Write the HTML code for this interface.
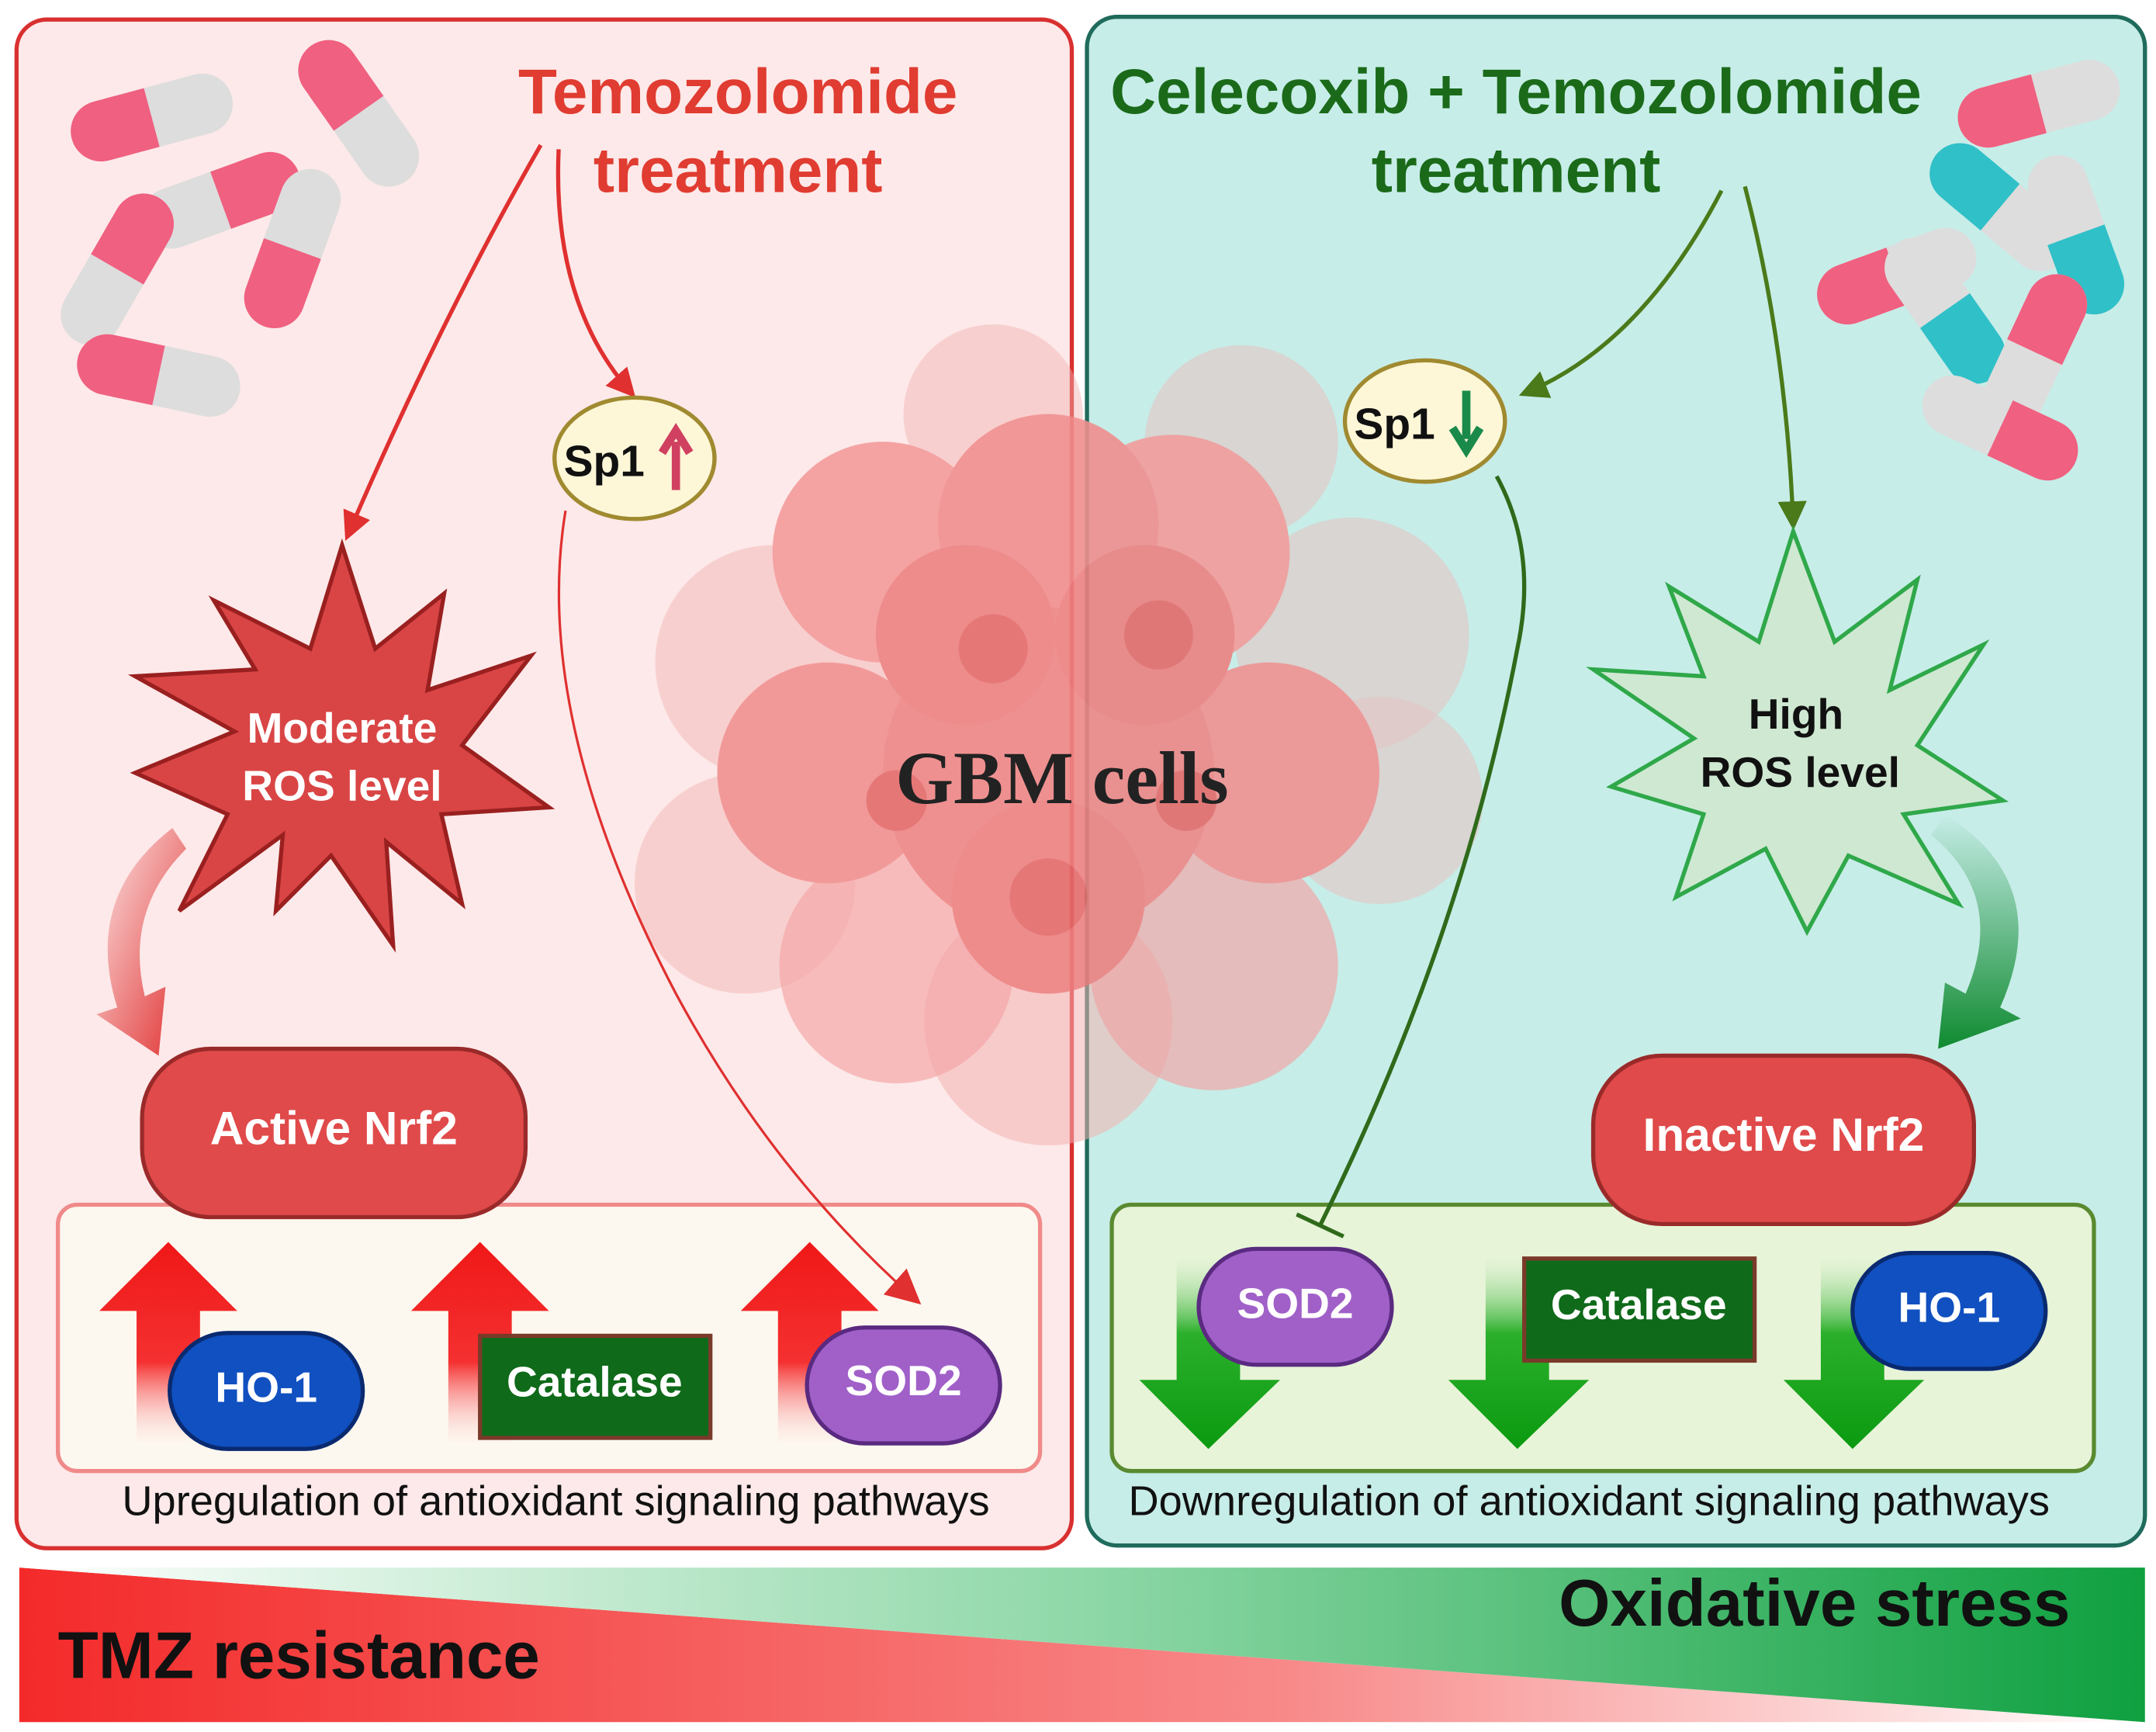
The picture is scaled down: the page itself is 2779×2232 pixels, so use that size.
<!DOCTYPE html>
<html><head><meta charset="utf-8">
<style>
html,body{margin:0;padding:0;background:#fff;}
svg{display:block;}
text{font-family:"Liberation Sans",sans-serif;}
</style></head>
<body>
<svg width="2779" height="2232" viewBox="0 0 1563 1255" xmlns="http://www.w3.org/2000/svg">
<defs>
<linearGradient id="redg" x1="0" x2="1" y1="0" y2="0">
<stop offset="0" stop-color="#f42a2a"/><stop offset="0.6" stop-color="#f88a8a"/><stop offset="1" stop-color="#ffffff"/></linearGradient>
<linearGradient id="greeng" x1="0" x2="1" y1="0" y2="0">
<stop offset="0" stop-color="#ffffff"/><stop offset="0.5" stop-color="#8fd8a8"/><stop offset="1" stop-color="#0fa040"/></linearGradient>
<linearGradient id="upr" x1="0" x2="0" y1="0" y2="1"><stop offset="0" stop-color="#f01818"/><stop offset="0.6" stop-color="#f43030"/><stop offset="1" stop-color="#fde8e8" stop-opacity="0.2"/></linearGradient>
<linearGradient id="dng" x1="0" x2="0" y1="0" y2="1"><stop offset="0" stop-color="#e6f4d8" stop-opacity="0.2"/><stop offset="0.4" stop-color="#2cb02c"/><stop offset="1" stop-color="#0a9a10"/></linearGradient>
<linearGradient id="curvr" x1="0" x2="1" y1="0" y2="1"><stop offset="0" stop-color="#fde8e8"/><stop offset="1" stop-color="#e03030"/></linearGradient>
<linearGradient id="curvg" x1="0" x2="0" y1="0" y2="1"><stop offset="0" stop-color="#c6ede8"/><stop offset="1" stop-color="#0f8a30"/></linearGradient>
<marker id="ar" viewBox="0 0 10 10" refX="8" refY="5" markerWidth="7" markerHeight="7" orient="auto"><path d="M0,0L10,5L0,10z" fill="#e03030"/></marker>
<marker id="ar2" viewBox="0 0 10 10" refX="8" refY="5" markerWidth="14" markerHeight="14" orient="auto"><path d="M0,0L10,5L0,10z" fill="#e03030"/></marker>
<marker id="ag" viewBox="0 0 10 10" refX="8" refY="5" markerWidth="7" markerHeight="7" orient="auto"><path d="M0,0L10,5L0,10z" fill="#4a7a1a"/></marker>
</defs>
<rect width="1563" height="1255" fill="#fff"/>
<rect x="12" y="14" width="765" height="1108" rx="22" fill="#fde9e9" stroke="#d93030" stroke-width="3"/>
<rect x="788" y="12" width="767" height="1108" rx="22" fill="#c7ede8" stroke="#1f6b5c" stroke-width="3"/>
<polygon points="14,1136 14,1248 1555,1248" fill="url(#redg)"/>
<polygon points="14,1136 1555,1136 1555,1248" fill="url(#greeng)"/>
<text x="42" y="1216" font-size="48" font-weight="bold" fill="#111">TMZ resistance</text>
<text x="1130" y="1178" font-size="48" font-weight="bold" fill="#111">Oxidative stress</text>
<g>
<g transform="translate(110,85) rotate(-15)"><rect x="-60" y="-22" width="120" height="44" rx="22" fill="#ddd"/><rect x="-60" y="-22" width="60" height="44" rx="22" fill="#f06080"/><rect x="-30" y="-22" width="30" height="44" fill="#f06080"/></g>
<g transform="translate(260,82) rotate(55)"><rect x="-60" y="-22" width="120" height="44" rx="22" fill="#ddd"/><rect x="-60" y="-22" width="60" height="44" rx="22" fill="#f06080"/><rect x="-30" y="-22" width="30" height="44" fill="#f06080"/></g>
<g transform="translate(160,145) rotate(-20)"><rect x="-60" y="-22" width="120" height="44" rx="22" fill="#ddd"/><rect x="0" y="-22" width="60" height="44" rx="22" fill="#f06080"/><rect x="0" y="-22" width="30" height="44" fill="#f06080"/></g>
<g transform="translate(85,195) rotate(-60)"><rect x="-60" y="-22" width="120" height="44" rx="22" fill="#ddd"/><rect x="0" y="-22" width="60" height="44" rx="22" fill="#f06080"/><rect x="0" y="-22" width="30" height="44" fill="#f06080"/></g>
<g transform="translate(212,180) rotate(-70)"><rect x="-60" y="-22" width="120" height="44" rx="22" fill="#ddd"/><rect x="-60" y="-22" width="60" height="44" rx="22" fill="#f06080"/><rect x="-30" y="-22" width="30" height="44" fill="#f06080"/></g>
<g transform="translate(115,272) rotate(12)"><rect x="-60" y="-22" width="120" height="44" rx="22" fill="#ddd"/><rect x="-60" y="-22" width="60" height="44" rx="22" fill="#f06080"/><rect x="-30" y="-22" width="30" height="44" fill="#f06080"/></g>
</g>
<g>
<g transform="translate(1478,75) rotate(-15)"><rect x="-60" y="-22" width="120" height="44" rx="22" fill="#ddd"/><rect x="-60" y="-22" width="60" height="44" rx="22" fill="#f06080"/><rect x="-30" y="-22" width="30" height="44" fill="#f06080"/></g>
<g transform="translate(1450,150) rotate(40)"><rect x="-60" y="-22" width="120" height="44" rx="22" fill="#ddd"/><rect x="-60" y="-22" width="60" height="44" rx="22" fill="#30c0c8"/><rect x="-30" y="-22" width="30" height="44" fill="#30c0c8"/></g>
<g transform="translate(1505,170) rotate(70)"><rect x="-60" y="-22" width="120" height="44" rx="22" fill="#ddd"/><rect x="0" y="-22" width="60" height="44" rx="22" fill="#30c0c8"/><rect x="0" y="-22" width="30" height="44" fill="#30c0c8"/></g>
<g transform="translate(1375,200) rotate(-20)"><rect x="-60" y="-22" width="120" height="44" rx="22" fill="#ddd"/><rect x="-60" y="-22" width="60" height="44" rx="22" fill="#f06080"/><rect x="-30" y="-22" width="30" height="44" fill="#f06080"/></g>
<g transform="translate(1410,225) rotate(55)"><rect x="-60" y="-22" width="120" height="44" rx="22" fill="#ddd"/><rect x="0" y="-22" width="60" height="44" rx="22" fill="#30c0c8"/><rect x="0" y="-22" width="30" height="44" fill="#30c0c8"/></g>
<g transform="translate(1475,255) rotate(-65)"><rect x="-60" y="-22" width="120" height="44" rx="22" fill="#ddd"/><rect x="0" y="-22" width="60" height="44" rx="22" fill="#f06080"/><rect x="0" y="-22" width="30" height="44" fill="#f06080"/></g>
<g transform="translate(1450,310) rotate(25)"><rect x="-60" y="-22" width="120" height="44" rx="22" fill="#ddd"/><rect x="0" y="-22" width="60" height="44" rx="22" fill="#f06080"/><rect x="0" y="-22" width="30" height="44" fill="#f06080"/></g>
</g>
<text x="535" y="82" font-size="46" font-weight="bold" fill="#e03c31" text-anchor="middle">Temozolomide</text>
<text x="535" y="139" font-size="46" font-weight="bold" fill="#e03c31" text-anchor="middle">treatment</text>
<text x="1099" y="82" font-size="46" font-weight="bold" fill="#1a6a1a" text-anchor="middle">Celecoxib + Temozolomide</text>
<text x="1099" y="139" font-size="46" font-weight="bold" fill="#1a6a1a" text-anchor="middle">treatment</text>
<g opacity="0.9">
<circle cx="560" cy="480" r="85" fill="#f4b0b0" opacity="0.5"/>
<circle cx="540" cy="640" r="80" fill="#f4b0b0" opacity="0.5"/>
<circle cx="980" cy="460" r="85" fill="#e8c0c0" opacity="0.6"/>
<circle cx="1000" cy="580" r="75" fill="#e8c0c0" opacity="0.6"/>
<circle cx="900" cy="320" r="70" fill="#e8c0c0" opacity="0.6"/>
<circle cx="720" cy="300" r="65" fill="#f4b0b0" opacity="0.5"/>
<circle cx="760" cy="740" r="90" fill="#f4b0b0" opacity="0.6"/>
<circle cx="880" cy="700" r="90" fill="#f4a0a0" opacity="0.7"/>
<circle cx="650" cy="700" r="85" fill="#f4a0a0" opacity="0.7"/>
<circle cx="640" cy="400" r="80" fill="#f39a9a"/>
<circle cx="850" cy="400" r="85" fill="#f39a9a"/>
<circle cx="760" cy="380" r="80" fill="#f08e8e"/>
<circle cx="600" cy="560" r="80" fill="#f09090"/>
<circle cx="920" cy="560" r="80" fill="#f09090"/>
<circle cx="760" cy="560" r="120" fill="#ee8686"/>
<circle cx="700" cy="460" r="65" fill="#ec8080"/>
<circle cx="830" cy="460" r="65" fill="#ec8080"/>
<circle cx="760" cy="650" r="70" fill="#ec8080"/>
<circle cx="720" cy="470" r="25" fill="#e46a6a"/>
<circle cx="840" cy="460" r="25" fill="#e46a6a"/>
<circle cx="760" cy="650" r="28" fill="#e46a6a"/>
<circle cx="860" cy="580" r="22" fill="#e46a6a"/>
<circle cx="650" cy="580" r="22" fill="#e46a6a"/>
</g>
<text x="770" y="582" font-size="54" font-weight="bold" fill="#222" text-anchor="middle" style="font-family:'Liberation Serif',serif">GBM cells</text>
<path d="M392,105 Q320,230 252,388" fill="none" stroke="#e03030" stroke-width="3" marker-end="url(#ar)"/>
<path d="M405,108 Q400,220 458,285" fill="none" stroke="#e03030" stroke-width="3" marker-end="url(#ar)"/>
<path d="M1248,138 Q1190,250 1105,285" fill="none" stroke="#4a7a1a" stroke-width="3" marker-end="url(#ag)"/>
<path d="M1265,135 Q1295,250 1300,380" fill="none" stroke="#4a7a1a" stroke-width="3" marker-end="url(#ag)"/>
<ellipse cx="460" cy="332" rx="58" ry="44" fill="#fdf7d8" stroke="#a08a30" stroke-width="3"/>
<text x="438" y="345" font-size="32" font-weight="bold" fill="#111" text-anchor="middle">Sp1</text>
<path d="M490,355 L490,320 M480,328 L490,312 L500,328" stroke="#d04060" stroke-width="6" fill="none"/>
<ellipse cx="1033" cy="305" rx="58" ry="44" fill="#fdf7d8" stroke="#a08a30" stroke-width="3"/>
<text x="1011" y="318" font-size="32" font-weight="bold" fill="#111" text-anchor="middle">Sp1</text>
<path d="M1063,283 L1063,318 M1053,310 L1063,326 L1073,310" stroke="#1a8a4a" stroke-width="6" fill="none"/>
<polygon points="248,395 272,470 322,430 310,500 385,475 335,540 398,585 320,590 335,655 280,610 285,685 240,620 200,660 205,605 130,660 165,590 98,560 170,530 98,490 185,485 155,435 225,470" fill="#d94545" stroke="#9a2020" stroke-width="3"/>
<text x="248" y="538" font-size="31" font-weight="bold" fill="#fff" text-anchor="middle">Moderate</text>
<text x="248" y="580" font-size="31" font-weight="bold" fill="#fff" text-anchor="middle">ROS level</text>
<polygon points="1300,385 1330,465 1390,420 1370,500 1438,467 1390,540 1452,580 1380,590 1420,655 1340,620 1310,675 1280,615 1215,650 1235,590 1168,570 1228,535 1155,485 1235,490 1210,425 1275,465" fill="#cfe8d2" stroke="#2fa84a" stroke-width="3"/>
<text x="1302" y="528" font-size="31" font-weight="bold" fill="#111" text-anchor="middle">High</text>
<text x="1305" y="570" font-size="31" font-weight="bold" fill="#111" text-anchor="middle">ROS level</text>
<path d="M125,600 Q60,650 85,730 L70,735 L115,765 L120,715 L105,722 Q90,660 135,615 Z" fill="url(#curvr)"/>
<path d="M1410,590 Q1490,640 1450,730 L1465,738 L1405,760 L1410,712 L1425,720 Q1455,650 1400,605 Z" fill="url(#curvg)"/>
<rect x="42" y="873" width="712" height="193" rx="14" fill="#fdf8ef" stroke="#f08a8a" stroke-width="3"/>
<rect x="806" y="873" width="712" height="193" rx="14" fill="#e7f4d8" stroke="#5a8a30" stroke-width="3"/>
<rect x="103" y="760" width="278" height="122" rx="50" fill="#e04a4a" stroke="#9a2a2a" stroke-width="3"/>
<text x="242" y="829" font-size="34" font-weight="bold" fill="#fff" text-anchor="middle">Active Nrf2</text>
<rect x="1155" y="765" width="276" height="122" rx="50" fill="#e04a4a" stroke="#9a2a2a" stroke-width="3"/>
<text x="1293" y="834" font-size="34" font-weight="bold" fill="#fff" text-anchor="middle">Inactive Nrf2</text>
<polygon points="72,950 122,900 172,950 145,950 145,1045 99,1045 99,950" fill="url(#upr)"/>
<polygon points="298,950 348,900 398,950 371,950 371,1045 325,1045 325,950" fill="url(#upr)"/>
<polygon points="537,950 587,900 637,950 610,950 610,1045 564,1045 564,950" fill="url(#upr)"/>
<polygon points="853,910 899,910 899,1000 928,1000 876,1050 826,1000 853,1000" fill="url(#dng)"/>
<polygon points="1077,910 1123,910 1123,1000 1152,1000 1100,1050 1050,1000 1077,1000" fill="url(#dng)"/>
<polygon points="1320,910 1366,910 1366,1000 1395,1000 1343,1050 1293,1000 1320,1000" fill="url(#dng)"/>
<!-- long connectors on top -->
<path d="M410,370 Q385,520 490,720 Q560,850 664,942" fill="none" stroke="#e03030" stroke-width="1.8" marker-end="url(#ar2)"/>
<path d="M1085,345 Q1115,400 1100,470 Q1060,680 957,888" fill="none" stroke="#2f6a1a" stroke-width="3"/>
<line x1="940" y1="880" x2="974" y2="896" stroke="#2f6a1a" stroke-width="3"/>
<rect x="123" y="966" width="140" height="84" rx="42" fill="#1050c0" stroke="#0a2a70" stroke-width="3"/>
<text x="193" y="1016" font-size="31" font-weight="bold" fill="#fff" text-anchor="middle">HO-1</text>
<rect x="348" y="968" width="167" height="74" fill="#0f6a1a" stroke="#7a3a2a" stroke-width="3"/>
<text x="431" y="1012" font-size="31" font-weight="bold" fill="#fff" text-anchor="middle">Catalase</text>
<rect x="585" y="962" width="140" height="84" rx="42" fill="#a060c8" stroke="#5a2a80" stroke-width="3"/>
<text x="655" y="1011" font-size="31" font-weight="bold" fill="#fff" text-anchor="middle">SOD2</text>
<rect x="869" y="905" width="140" height="84" rx="42" fill="#a060c8" stroke="#5a2a80" stroke-width="3"/>
<text x="939" y="955" font-size="31" font-weight="bold" fill="#fff" text-anchor="middle">SOD2</text>
<rect x="1105" y="912" width="167" height="74" fill="#0f6a1a" stroke="#7a3a2a" stroke-width="3"/>
<text x="1188" y="956" font-size="31" font-weight="bold" fill="#fff" text-anchor="middle">Catalase</text>
<rect x="1343" y="908" width="140" height="84" rx="42" fill="#1050c0" stroke="#0a2a70" stroke-width="3"/>
<text x="1413" y="958" font-size="31" font-weight="bold" fill="#fff" text-anchor="middle">HO-1</text>
<text x="403" y="1098" font-size="30.5" fill="#111" text-anchor="middle">Upregulation of antioxidant signaling pathways</text>
<text x="1152" y="1098" font-size="30.5" fill="#111" text-anchor="middle">Downregulation of antioxidant signaling pathways</text>
</svg>
</body></html>
